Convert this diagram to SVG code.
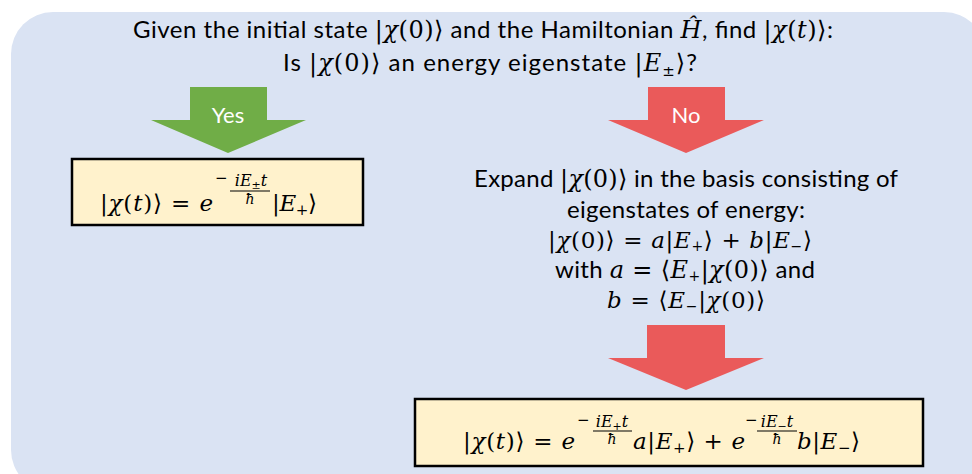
<svg xmlns="http://www.w3.org/2000/svg" width="972" height="474" viewBox="0 0 972 474">
<style>
.t{font-family:Lato,"Open Sans","Liberation Sans",sans-serif;fill:#000}
.m{font-family:"DejaVu Serif","Liberation Serif",serif;font-style:italic}
.u{font-family:"DejaVu Serif","Liberation Serif",serif;font-style:normal}
.box{fill:#FFF2CC;stroke:#000;stroke-width:2.5}
.lab{font-family:Lato,"Open Sans","Liberation Sans",sans-serif;fill:#fff;font-size:22px;text-anchor:middle}
</style>
<rect x="11" y="12" width="975" height="480" rx="42" fill="#DAE3F3"/>
<g id="question">
<text class="t" x="483" y="38" font-size="24" text-anchor="middle" textLength="700" lengthAdjust="spacing">Given the initial state <tspan class="u">|</tspan><tspan class="m">χ</tspan><tspan class="u">(0)⟩</tspan> and the Hamiltonian <tspan class="m">Ĥ</tspan>, find <tspan class="u">|</tspan><tspan class="m">χ</tspan><tspan class="u">(</tspan><tspan class="m">t</tspan><tspan class="u">)⟩</tspan>:</text>
<text class="t" x="490" y="71" font-size="24" text-anchor="middle" textLength="414" lengthAdjust="spacing">Is <tspan class="u">|</tspan><tspan class="m">χ</tspan><tspan class="u">(0)⟩</tspan> an energy eigenstate <tspan class="u">|</tspan><tspan class="m">E</tspan><tspan class="u" font-size="15" dy="5">±</tspan><tspan class="u" dy="-5">⟩</tspan>?</text>
</g>
<g id="connectors">
<g id="yes-arrow">
<polygon points="190,87 267,87 267,120 306,120 228,153 151,120 190,120" fill="#70AD47"/>
<text class="lab" x="228" y="123">Yes</text>
</g>
<g id="no-arrow">
<polygon points="648,87 725,87 725,120 764,120 686,153 608,120 648,120" fill="#EA5A5A"/>
<text class="lab" x="686" y="123">No</text>
</g>
<g id="down-arrow">
<polygon points="647,325 725,325 725,358 764,358 686,390 608,358 647,358" fill="#EA5A5A"/>
</g>
</g>
<g id="yes-result">
<rect class="box" x="72" y="159" width="291" height="66"/>
<text x="100" y="211" font-size="23" textLength="113" lengthAdjust="spacing"><tspan class="u">|</tspan><tspan class="m">χ</tspan><tspan class="u">(</tspan><tspan class="m">t</tspan><tspan class="u">)⟩ = </tspan><tspan class="m">e</tspan></text>
<text class="u" x="215" y="183" font-size="15">−</text>
<text x="251" y="186" font-size="16" text-anchor="middle"><tspan class="m">iE</tspan><tspan class="u" font-size="11" dy="3">±</tspan><tspan class="m" dy="-3">t</tspan></text>
<line x1="230" y1="191" x2="270" y2="191" stroke="#000" stroke-width="1.2"/>
<text class="m" x="250" y="204" font-size="14" text-anchor="middle">ħ</text>
<text x="272" y="211" font-size="23" textLength="45" lengthAdjust="spacing"><tspan class="u">|</tspan><tspan class="m">E</tspan><tspan class="u" font-size="15" dy="4">+</tspan><tspan class="u" dy="-4">⟩</tspan></text>
</g>
<g id="expand">
<text class="t" x="686" y="187" font-size="24" text-anchor="middle" textLength="424" lengthAdjust="spacing">Expand <tspan class="u">|</tspan><tspan class="m">χ</tspan><tspan class="u">(0)⟩</tspan> in the basis consisting of</text>
<text class="t" x="686" y="218" font-size="24" text-anchor="middle" textLength="238" lengthAdjust="spacing">eigenstates of energy:</text>
<text x="680" y="248" font-size="23" text-anchor="middle" textLength="264" lengthAdjust="spacing"><tspan class="u">|</tspan><tspan class="m">χ</tspan><tspan class="u">(0)⟩ = </tspan><tspan class="m">a</tspan><tspan class="u">|</tspan><tspan class="m">E</tspan><tspan class="u" font-size="14" dy="3">+</tspan><tspan class="u" dy="-3">⟩ + </tspan><tspan class="m">b</tspan><tspan class="u">|</tspan><tspan class="m">E</tspan><tspan class="u" font-size="14" dy="3">−</tspan><tspan class="u" dy="-3">⟩</tspan></text>
<text class="t" x="685" y="278" font-size="24" text-anchor="middle" textLength="260" lengthAdjust="spacing">with <tspan class="m">a</tspan><tspan class="u"> = ⟨</tspan><tspan class="m">E</tspan><tspan class="u" font-size="14" dy="3">+</tspan><tspan class="u" dy="-3">|</tspan><tspan class="m">χ</tspan><tspan class="u">(0)⟩</tspan> and</text>
<text x="686" y="308" font-size="23" text-anchor="middle" textLength="158" lengthAdjust="spacing"><tspan class="m">b</tspan><tspan class="u"> = ⟨</tspan><tspan class="m">E</tspan><tspan class="u" font-size="14" dy="3">−</tspan><tspan class="u" dy="-3">|</tspan><tspan class="m">χ</tspan><tspan class="u">(0)⟩</tspan></text>
</g>
<g id="no-result">
<rect class="box" x="415" y="399" width="508" height="67"/>
<text x="463" y="449" font-size="23" textLength="112" lengthAdjust="spacing"><tspan class="u">|</tspan><tspan class="m">χ</tspan><tspan class="u">(</tspan><tspan class="m">t</tspan><tspan class="u">)⟩ = </tspan><tspan class="m">e</tspan></text>
<text class="u" x="577" y="425" font-size="15">−</text>
<text x="612" y="427" font-size="16" text-anchor="middle"><tspan class="m">iE</tspan><tspan class="u" font-size="11" dy="3">+</tspan><tspan class="m" dy="-3">t</tspan></text>
<line x1="593" y1="431" x2="632" y2="431" stroke="#000" stroke-width="1.2"/>
<text class="m" x="612" y="444" font-size="14" text-anchor="middle">ħ</text>
<text x="633" y="449" font-size="23" textLength="112" lengthAdjust="spacing"><tspan class="m">a</tspan><tspan class="u">|</tspan><tspan class="m">E</tspan><tspan class="u" font-size="15" dy="4">+</tspan><tspan class="u" dy="-4">⟩ + </tspan><tspan class="m">e</tspan></text>
<text class="u" x="745" y="425" font-size="15">−</text>
<text x="777" y="427" font-size="16" text-anchor="middle"><tspan class="m">iE</tspan><tspan class="u" font-size="11" dy="3">−</tspan><tspan class="m" dy="-3">t</tspan></text>
<line x1="757" y1="431" x2="797" y2="431" stroke="#000" stroke-width="1.2"/>
<text class="m" x="777" y="444" font-size="14" text-anchor="middle">ħ</text>
<text x="797" y="449" font-size="23" textLength="63" lengthAdjust="spacing"><tspan class="m">b</tspan><tspan class="u">|</tspan><tspan class="m">E</tspan><tspan class="u" font-size="15" dy="4">−</tspan><tspan class="u" dy="-4">⟩</tspan></text>
</g>
</svg>
